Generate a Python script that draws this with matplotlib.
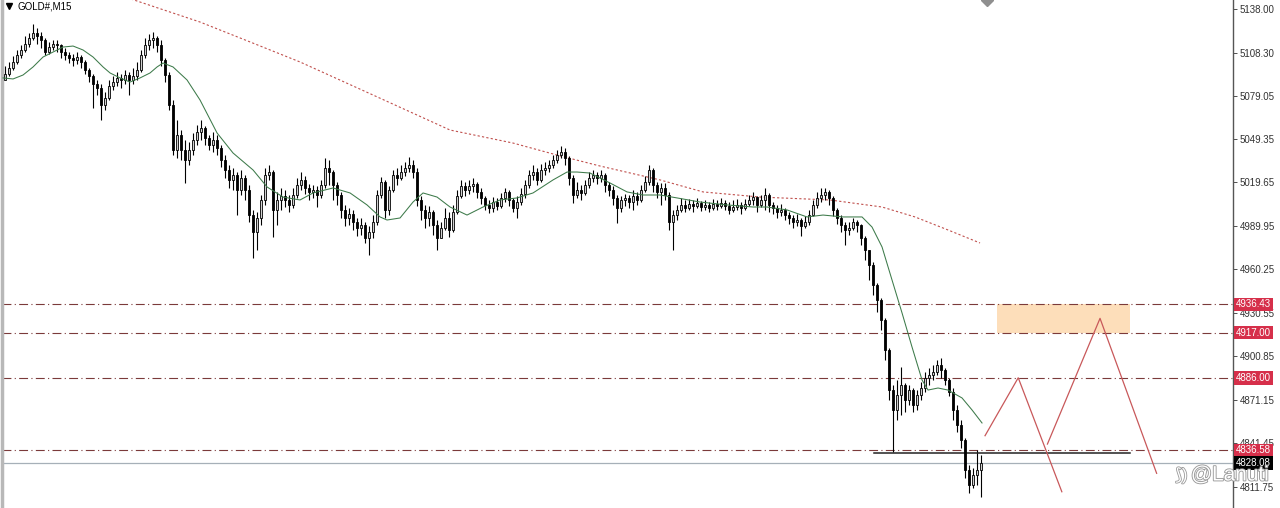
import matplotlib
matplotlib.use("Agg")
import matplotlib.pyplot as plt
import matplotlib.transforms as mtransforms
import matplotlib.patheffects as pe
import numpy as np

plt.rcParams['font.family'] = ['Liberation Sans', 'DejaVu Sans']

# --- data (GOLD# M15) ---
first_open = 5090.0

closes = [
    5093.8, 5097.9, 5102.0, 5106.8, 5110.2, 5114.3, 5118.4, 5121.8, 5119.8, 5117.0,
    5108.8, 5112.2, 5114.3, 5113.6, 5108.8, 5106.8, 5104.7, 5103.4, 5105.4, 5102.0,
    5096.5, 5092.4, 5087.0, 5084.3, 5072.6, 5077.4, 5085.6, 5088.3, 5091.1, 5089.7,
    5093.1, 5089.7, 5092.4, 5096.5, 5106.8, 5113.6, 5117.0, 5118.4, 5113.6, 5103.4,
    5093.1, 5072.6, 5041.9, 5052.1, 5041.9, 5035.0, 5041.9, 5048.7, 5054.2, 5056.9,
    5050.1, 5045.3, 5048.7, 5043.2, 5035.0, 5028.2, 5021.4, 5024.8, 5014.5, 5022.7,
    5014.5, 4997.4, 4985.8, 4995.4, 5007.7, 5024.8, 5026.8, 5000.9, 5007.7, 5010.4,
    5007.7, 5004.3, 5011.1, 5017.9, 5021.4, 5015.9, 5013.2, 5014.5, 5011.1, 5017.9,
    5029.6, 5026.8, 5017.9, 5011.1, 5000.9, 4995.4, 4998.1, 4992.6, 4988.5, 4990.6,
    4981.7, 4985.8, 4992.6, 5011.1, 5020.0, 5000.9, 5014.5, 5024.8, 5022.7, 5026.8,
    5029.6, 5031.6, 5026.8, 5007.7, 5000.9, 4995.4, 4999.5, 4990.6, 4981.7, 4988.5,
    4995.4, 4987.2, 4999.5, 5010.4, 5017.3, 5014.5, 5017.3, 5018.6, 5013.2, 5009.1,
    5004.3, 5002.2, 5006.3, 5003.6, 5009.1, 5013.2, 5007.7, 5002.2, 5006.3, 5011.8,
    5017.9, 5024.8, 5026.8, 5021.4, 5028.2, 5029.6, 5031.6, 5035.0, 5038.4, 5040.5,
    5036.4, 5022.7, 5011.1, 5014.5, 5012.5, 5017.9, 5022.7, 5024.8, 5022.7, 5024.8,
    5017.9, 5014.5, 5009.1, 5002.2, 5007.7, 5009.1, 5006.3, 5010.4, 5007.7, 5014.5,
    5020.0, 5028.2, 5017.9, 5013.2, 5015.9, 5011.1, 4992.6, 4997.4, 5000.9, 5004.3,
    5002.2, 5005.0, 5003.6, 5005.6, 5002.9, 5004.3, 5002.2, 5005.0, 5003.6, 5005.6,
    5003.6, 5000.9, 5002.9, 5004.3, 5002.2, 5005.0, 5007.7, 5009.7, 5004.3, 5007.7,
    5011.1, 5004.3, 5002.2, 4999.5, 5000.9, 4997.4, 4995.4, 4992.6, 4994.0, 4989.9,
    4992.6, 4997.4, 5004.3, 5009.1, 5011.1, 5013.2, 5009.1, 5000.9, 4995.4, 4990.6,
    4987.2, 4988.5, 4992.6, 4990.6, 4981.7, 4973.5, 4963.3, 4949.6, 4939.3, 4925.7,
    4905.2, 4877.8, 4864.2, 4874.4, 4881.3, 4871.0, 4877.8, 4867.6, 4874.4, 4879.2,
    4886.0, 4888.1, 4890.1, 4895.0, 4891.5, 4884.7, 4876.5, 4864.2, 4853.9, 4843.7,
    4823.2, 4812.9, 4819.7, 4823.2, 4828.08,
]

highs = [
    5099.3, 5102.0, 5106.1, 5110.2, 5113.6, 5119.8, 5121.8, 5128.0, 5125.2, 5122.5,
    5118.4, 5115.7, 5117.0, 5117.0, 5114.3, 5111.6, 5108.8, 5107.5, 5108.8, 5106.8,
    5103.4, 5097.9, 5093.8, 5089.7, 5087.0, 5081.5, 5089.7, 5092.4, 5095.2, 5093.8,
    5096.5, 5095.2, 5097.9, 5102.0, 5110.2, 5118.4, 5121.1, 5122.5, 5119.8, 5117.0,
    5104.7, 5095.2, 5076.0, 5062.4, 5055.5, 5048.7, 5047.3, 5053.5, 5058.9, 5062.4,
    5058.3, 5052.1, 5054.2, 5052.1, 5045.3, 5038.4, 5031.6, 5029.6, 5026.8, 5028.2,
    5024.8, 5017.9, 5000.9, 4999.5, 5011.1, 5029.6, 5031.6, 5028.2, 5013.2, 5015.9,
    5014.5, 5011.1, 5015.9, 5022.7, 5026.8, 5024.1, 5018.6, 5017.9, 5017.3, 5021.4,
    5036.4, 5035.0, 5028.2, 5020.0, 5013.2, 5004.3, 5002.2, 5000.9, 4995.4, 4995.4,
    4992.6, 4989.9, 4997.4, 5014.5, 5023.4, 5021.4, 5017.3, 5028.2, 5029.6, 5031.6,
    5033.7, 5037.1, 5035.0, 5029.6, 5010.4, 5004.3, 5003.6, 5000.9, 4994.0, 4992.6,
    5002.2, 4999.5, 5004.3, 5014.5, 5021.4, 5020.0, 5021.4, 5022.7, 5020.0, 5015.9,
    5010.4, 5007.7, 5009.7, 5009.1, 5012.5, 5015.9, 5014.5, 5009.1, 5010.4, 5015.9,
    5021.4, 5028.2, 5031.6, 5029.6, 5032.3, 5033.7, 5035.0, 5038.4, 5041.9, 5044.6,
    5043.2, 5037.8, 5024.8, 5020.0, 5017.9, 5021.4, 5026.8, 5028.2, 5026.8, 5028.2,
    5026.1, 5020.0, 5017.3, 5011.1, 5010.4, 5011.8, 5011.1, 5014.5, 5013.2, 5017.9,
    5024.1, 5031.6, 5029.6, 5020.0, 5019.3, 5019.3, 5013.2, 5000.9, 5004.3, 5009.1,
    5007.7, 5008.4, 5007.7, 5009.1, 5007.0, 5007.7, 5006.3, 5008.4, 5007.7, 5009.1,
    5007.7, 5006.3, 5007.7, 5008.4, 5006.3, 5008.4, 5011.1, 5013.2, 5010.4, 5011.1,
    5015.9, 5012.5, 5006.3, 5004.3, 5005.0, 5002.2, 4999.5, 4997.4, 4998.1, 4995.4,
    4996.8, 5000.9, 5007.7, 5013.2, 5015.9, 5015.9, 5014.5, 5010.4, 5002.2, 4997.4,
    4992.6, 4992.6, 4995.4, 4994.0, 4991.3, 4983.1, 4973.5, 4965.3, 4951.0, 4940.7,
    4927.0, 4906.5, 4881.2, 4884.7, 4893.6, 4882.6, 4881.3, 4879.2, 4877.8, 4883.3,
    4890.1, 4892.9, 4894.9, 4898.3, 4899.7, 4892.9, 4886.0, 4879.2, 4867.6, 4857.3,
    4845.0, 4826.6, 4824.5, 4836.8, 4833.4,
]

lows = [
    5089.7, 5092.4, 5096.5, 5100.6, 5104.7, 5108.8, 5112.2, 5117.0, 5114.3, 5111.6,
    5106.8, 5107.5, 5110.2, 5108.8, 5104.7, 5103.4, 5101.3, 5099.3, 5100.6, 5097.9,
    5093.8, 5088.3, 5070.6, 5079.4, 5062.4, 5069.2, 5076.0, 5082.9, 5085.6, 5084.3,
    5087.0, 5079.4, 5087.0, 5089.7, 5095.2, 5104.7, 5110.2, 5111.6, 5108.8, 5099.3,
    5088.3, 5069.2, 5038.4, 5036.4, 5035.0, 5019.3, 5031.6, 5038.4, 5045.3, 5048.7,
    5045.3, 5041.9, 5040.5, 5038.4, 5030.2, 5022.7, 5015.9, 5014.5, 4997.4, 5011.1,
    5007.7, 4992.6, 4968.0, 4973.5, 4990.6, 5004.3, 5021.4, 4982.4, 4990.6, 5000.9,
    5002.9, 4999.5, 5002.2, 5009.1, 5014.5, 5011.8, 5007.7, 5009.1, 5002.9, 5009.1,
    5015.9, 5017.9, 5007.7, 5004.3, 4995.4, 4989.9, 4990.6, 4987.2, 4983.1, 4983.8,
    4978.3, 4970.1, 4981.7, 4990.6, 5009.1, 4995.4, 4997.4, 5013.2, 5017.9, 5021.4,
    5024.1, 5026.8, 5022.7, 5003.6, 4994.0, 4988.5, 4989.9, 4983.8, 4973.5, 4981.7,
    4987.2, 4982.4, 4985.8, 4998.1, 5009.1, 5010.4, 5011.8, 5013.2, 5009.1, 5005.0,
    5000.9, 4998.8, 4999.5, 5000.9, 5002.2, 5006.3, 5003.6, 4999.5, 4995.4, 5004.3,
    5009.1, 5015.9, 5021.4, 5017.9, 5020.0, 5024.8, 5026.8, 5029.6, 5033.0, 5036.4,
    5031.6, 5017.9, 5005.6, 5009.1, 5007.7, 5011.1, 5015.9, 5020.0, 5018.6, 5020.0,
    5013.2, 5010.4, 5004.3, 4992.0, 4999.5, 5003.6, 5002.2, 5000.9, 5004.3, 5006.3,
    5013.2, 5017.9, 5013.2, 5009.1, 5004.3, 5007.7, 4987.2, 4973.5, 4994.0, 4999.5,
    4999.5, 5000.9, 4999.5, 5002.2, 5000.2, 5000.9, 4999.5, 5000.9, 5000.9, 5002.2,
    5000.9, 4998.1, 4999.5, 5000.9, 4998.1, 5000.9, 5003.6, 5004.3, 4999.5, 5002.9,
    5000.9, 4999.5, 4998.1, 4995.4, 4996.8, 4994.0, 4991.3, 4988.5, 4989.9, 4983.1,
    4988.5, 4990.6, 4996.8, 5002.2, 5006.3, 5007.7, 5004.3, 4996.8, 4991.3, 4985.8,
    4976.9, 4983.8, 4987.2, 4985.8, 4976.9, 4966.7, 4953.0, 4942.8, 4931.1, 4918.8,
    4898.3, 4871.0, 4835.4, 4857.3, 4860.8, 4862.8, 4867.6, 4862.8, 4864.2, 4871.0,
    4876.5, 4881.3, 4884.7, 4888.1, 4886.0, 4881.3, 4873.7, 4857.3, 4849.1, 4838.2,
    4817.7, 4807.4, 4810.9, 4812.9, 4804.7,
]

# green (fast) moving average, read as (bar index, price)
ma_fast_bar = [-0.5, 2, 4.5, 7, 9.5, 12, 14.5, 17, 19.5, 22, 24.5, 26.25, 28.75, 31.25,
               33.75, 36.25, 38, 39.5, 42, 45.5, 48.75, 53, 57, 62, 65.5, 69.5, 73.75,
               77, 82, 86.25, 90.5, 93.75, 95.5, 98.75, 102, 104.5, 108, 111.25, 115.5,
               119.5, 123.75, 128, 132, 137, 140.5, 143, 146.25, 151.25, 155.5, 159.5,
               163.75, 168, 173.75, 180.5, 187, 190.5, 195.5, 200.5, 204.5, 209.5,
               214.25, 216.75, 219.25, 221.75, 224.25, 226.75, 229.25, 230.75, 233.25,
               235.75, 239.25, 241.75, 244.25]
ma_fast_val = [5091.1, 5090.4, 5093.1, 5098.6, 5105.4, 5108.8, 5112.2, 5112.9, 5110.2,
               5105.4, 5098.6, 5094.5, 5091.1, 5088.3, 5091.1, 5094.5, 5098.6, 5101.3,
               5098.6, 5089.7, 5076.0, 5053.5, 5039.8, 5028.2, 5016.6, 5009.7, 5007.7,
               5012.5, 5015.9, 5012.5, 5004.3, 4996.1, 4994.0, 4995.4, 5006.3, 5012.5,
               5009.7, 5002.9, 4997.4, 5002.9, 5007.7, 5009.1, 5012.5, 5021.4, 5026.8,
               5026.8, 5026.1, 5019.3, 5013.2, 5011.1, 5011.1, 5009.1, 5006.3, 5004.3,
               5002.9, 5002.9, 5000.9, 4996.1, 4997.4, 4996.1, 4996.1, 4989.2, 4975.6,
               4953.0, 4930.5, 4907.2, 4884.7, 4877.8, 4879.2, 4877.8, 4872.4, 4864.2,
               4855.3]

# red dotted (slow) moving average
ma_slow_bar = [30, 48.75, 61.25, 73.75, 92.5, 111.25, 127, 138, 148.75, 163.75, 174.5,
               188.75, 206.25, 219.25, 227.5, 235.75, 243.75]
ma_slow_val = [5146.4, 5129.3, 5115.7, 5102.0, 5078.8, 5055.5, 5046.6, 5038.4, 5030.9,
               5021.4, 5013.2, 5009.7, 5007.7, 5002.9, 4996.1, 4987.2, 4978.3]

# horizontal levels
levels = [4936.43, 4917.00, 4886.00, 4836.58]
bid_price = 4828.08
support_price = 4834.9
support_bars = [217.25, 281.25]

zone_bars = [248.0, 281.25]
zone_prices = [4917.00, 4936.43]

# projected zig-zag paths
path1_bar = [245.0, 253.3, 264.2]
path1_val = [4846.6, 4886.2, 4808.3]
path2_bar = [260.6, 273.75, 287.9]
path2_val = [4840.9, 4926.8, 4820.9]

tick_values = [5138.00, 5108.30, 5079.05, 5049.35, 5019.65, 4989.95, 4960.25,
               4930.55, 4900.85, 4871.15, 4841.45, 4811.75]

# --- figure ---
fig = plt.figure(figsize=(12.8, 5.08), dpi=100)
ax = fig.add_axes([0.0016, 0.0, 0.9617, 1.0])
ax.set_facecolor('white')

n = len(closes)
x = np.arange(n)
c = np.array(closes)
o = np.array([first_open] + closes[:-1])
h = np.array(highs)
l = np.array(lows)

up = c >= o
ax.vlines(x, l, h, color='black', linewidth=0.8, zorder=3)
body_lo = np.minimum(o, c)
body_h = np.maximum(np.abs(c - o), 0.4)
ax.bar(x[up], body_h[up], bottom=body_lo[up], width=0.7, color='#d0d0d0',
       edgecolor='black', linewidth=0.6, zorder=4)
ax.bar(x[~up], body_h[~up], bottom=body_lo[~up], width=0.7, color='black',
       edgecolor='black', linewidth=0.6, zorder=4)

# moving averages
ax.plot(ma_fast_bar, ma_fast_val, color='#3d7a4a', linewidth=0.75, zorder=5)
ax.plot(ma_slow_bar, ma_slow_val, color='#c0504d', linewidth=0.8,
        linestyle=(0, (2, 2)), zorder=2)

# levels
for lv in levels:
    ax.axhline(lv, color='#7b3a3a', linewidth=0.8, linestyle=(0, (8, 3, 1, 3)), zorder=2)
ax.axhline(bid_price, color='#a6b0b8', linewidth=0.9, zorder=2)
ax.plot(support_bars, [support_price, support_price], color='#222222', linewidth=1.1, zorder=3)

# supply zone
ax.fill_between(zone_bars, zone_prices[0], zone_prices[1], color='#fdd9ae', alpha=0.85,
                linewidth=0, zorder=1)

# scenario paths
ax.plot(path1_bar, path1_val, color='#c8585a', linewidth=0.9, zorder=3)
ax.plot(path2_bar, path2_val, color='#c8585a', linewidth=0.9, zorder=3)

ax.set_xlim(-0.75, 307)
ax.set_ylim(4797.2, 5144.36)

# axis cosmetics
ax.yaxis.tick_right()
ax.set_yticks(tick_values)
ax.set_yticklabels(['%.2f' % t for t in tick_values])
ax.tick_params(axis='y', direction='out', length=3, width=0.6, pad=2, labelsize=7,
               colors='#333333')
ax.set_xticks([])
for s in ['top', 'bottom']:
    ax.spines[s].set_visible(False)
ax.spines['right'].set_color('#555555')
ax.spines['right'].set_linewidth(1.0)
ax.spines['left'].set_color('#b8b8b8')
ax.spines['left'].set_linewidth(2.5)

# price tags on the right axis
tr = mtransforms.blended_transform_factory(ax.transAxes, ax.transData)
for lv in levels:
    ax.text(1.0025, lv, '%.2f' % lv, transform=tr, fontsize=7, color='white',
            va='center', ha='left', zorder=10, clip_on=False,
            bbox=dict(boxstyle='square,pad=0.18', facecolor='#d62f4a', edgecolor='none'))
ax.text(1.0025, bid_price, '%.2f' % bid_price, transform=tr, fontsize=7, color='white',
        va='center', ha='left', zorder=10, clip_on=False,
        bbox=dict(boxstyle='square,pad=0.18', facecolor='black', edgecolor='none'))

# symbol caption and chart-shift marker
ax.plot([0.0055], [0.988], marker='v', color='black', markersize=4, transform=ax.transAxes,
        clip_on=False)
ax.text(0.0125, 0.988, 'GOLD#,M15', transform=ax.transAxes, fontsize=7, va='center',
        ha='left', color='black')
ax.plot([245.5], [5144.36], marker='D', color='#8f8f8f', markersize=6, clip_on=True, zorder=6)

# watermark
fig.text(0.923, 0.065, '⟆)', fontsize=12, color='white', ha='center', va='center',
         path_effects=[pe.withStroke(linewidth=1.2, foreground='#9a9a9a')])
fig.text(0.961, 0.065, '@Lanuti', fontsize=15, color='white', ha='center', va='center',
         path_effects=[pe.withStroke(linewidth=1.3, foreground='#9a9a9a')])

fig.savefig('out.png', dpi=100, facecolor='white')
